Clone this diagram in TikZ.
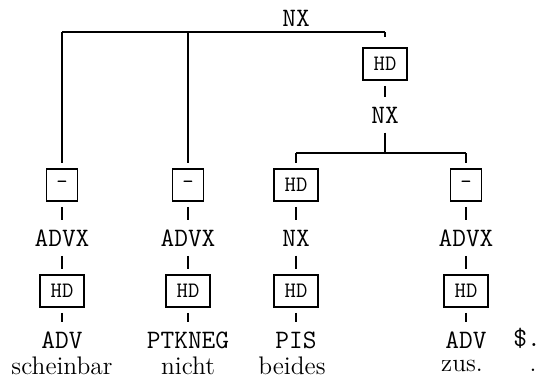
\documentclass[tikz,border=0pt]{standalone}
\usepackage{amsmath}
\usepackage{amssymb}
\usepackage{tikz}

\tikzset{
  catnode/.style={font=\fontsize{13.3}{15}\ttfamily, inner sep=2pt},
  funcbox/.style={draw, line width=0.9pt, font=\fontsize{11}{13}\ttfamily, minimum height=16pt, minimum width=15.5pt, inner sep=1pt},
  hdbox/.style={funcbox, minimum width=22pt},
  wordnode/.style={font=\fontsize{12.7}{15}\selectfont, inner sep=1pt},
  link/.style={line width=0.9pt, shorten <=2.5pt, shorten >=2.5pt},
  rail/.style={line width=0.9pt}
}

\begin{document}
\begin{tikzpicture}[x=0.5pt, y=-0.5pt]
\useasboundingbox (0,0) rectangle (542,381);
% top node and its bar
\node[catnode] (nxtop) at (296,18) {NX};
\coordinate (bartop) at (296,32);
% first two columns
\node[funcbox] (fa) at (62,185) {-};
\node[funcbox] (fb) at (188,185) {-};
\node[hdbox] (hdtop) at (385,64) {HD};
\draw[rail] (fa |- bartop) -- (hdtop |- bartop);
\draw[link, shorten <=0pt] (fa |- bartop) -- (fa);
\draw[link, shorten <=0pt] (fb |- bartop) -- (fb);
\draw[link, shorten <=0pt, shorten >=5pt] (hdtop |- bartop) -- (hdtop);
% inner NX
\node[catnode] (nxmid) at (385,115) {NX};
\draw[link] (hdtop) -- (nxmid);
\coordinate (barmid) at (385,153);
\node[hdbox] (fc) at (296,185) {HD};
\node[funcbox] (fd) at (466,185) {-};
\draw[link, shorten >=0pt] (nxmid) -- (barmid);
\draw[rail] (fc |- barmid) -- (fd |- barmid);
\draw[link, shorten <=0pt] (fc |- barmid) -- (fc);
\draw[link, shorten <=0pt] (fd |- barmid) -- (fd);
% phrase level
\node[catnode] (pa) at (62,238) {ADVX};
\node[catnode] (pb) at (188,238) {ADVX};
\node[catnode] (pc) at (296,238) {NX};
\node[catnode] (pd) at (466,238) {ADVX};
\draw[link] (fa) -- (pa);
\draw[link] (fb) -- (pb);
\draw[link] (fc) -- (pc);
\draw[link] (fd) -- (pd);
% heads
\node[hdbox] (ha) at (62,291) {HD};
\node[hdbox] (hb) at (188,291) {HD};
\node[hdbox] (hc) at (296,291) {HD};
\node[hdbox] (hd) at (466,291) {HD};
\draw[link] (pa) -- (ha);
\draw[link] (pb) -- (hb);
\draw[link] (pc) -- (hc);
\draw[link] (pd) -- (hd);
% tags
\node[catnode] (ta) at (62,340) {ADV};
\node[catnode] (tb) at (188,340) {PTKNEG};
\node[catnode] (tc) at (296,340) {PIS};
\node[catnode] (td) at (466,340) {ADV};
\node[catnode, inner sep=0pt] (te) at (527,338) {\$.};
\draw[link] (ha) -- (ta);
\draw[link] (hb) -- (tb);
\draw[link] (hc) -- (tc);
\draw[link] (hd) -- (td);
% words
\node[wordnode] (wa) at (62,366) {scheinbar};
\node[wordnode] (wb) at (188,366) {nicht};
\node[wordnode] (wc) at (292,366) {beides};
\node[wordnode] (wd) at (462,366) {zus.};
\node[wordnode, inner sep=0pt] (we) at (533,370) {.};
\end{tikzpicture}
\end{document}
